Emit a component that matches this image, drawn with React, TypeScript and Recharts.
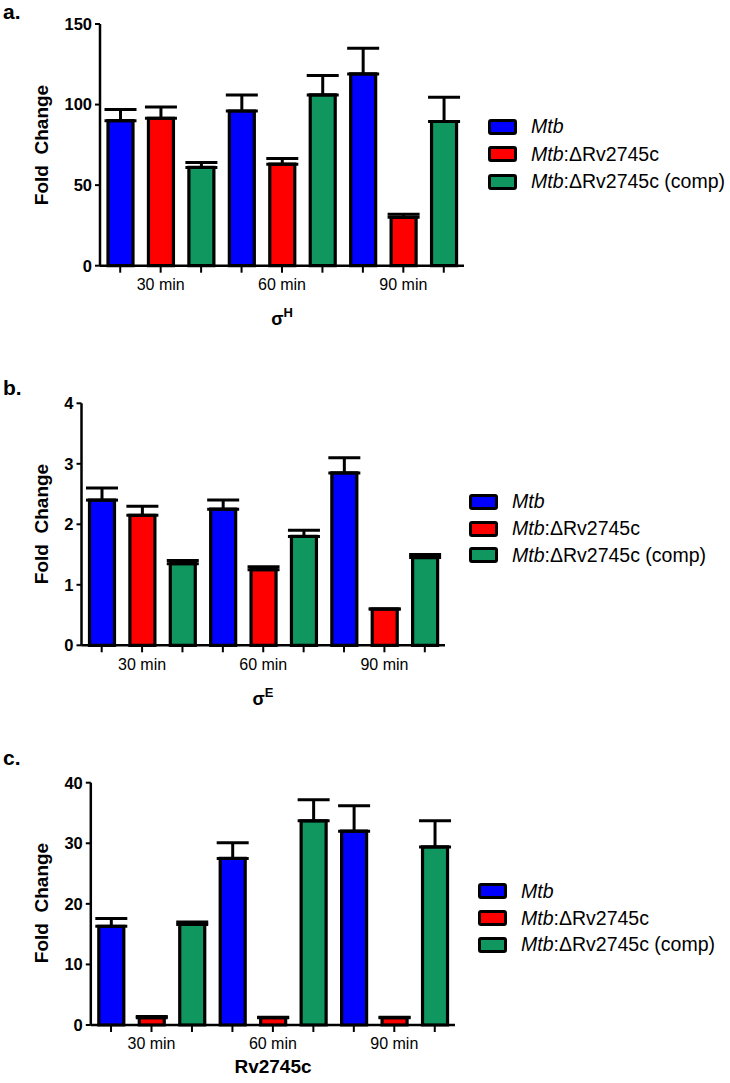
import React from "react";
import { BarChart, Bar, Cell, XAxis, YAxis, ErrorBar, Legend } from "recharts";

// categories: 3 time points x 3 strains, time-major order
const TIMES = ["30 min", "60 min", "90 min"];
const STRAINS = ["Mtb", "Mtb:ΔRv2745c", "Mtb:ΔRv2745c (comp)"];
const STRAIN_COLORS = ["#0000ff", "#ff0000", "#10965f"];

// sigma H
const sigmaHMean = [90, 91.5, 61, 96, 63, 106, 119, 30, 89.5];
const sigmaHErr = [7, 7, 3, 10, 3.5, 12, 16, 2, 15];
const sigmaHTicks = [0, 50, 100, 150];

// sigma E
const sigmaEMean = [2.4, 2.15, 1.35, 2.25, 1.25, 1.8, 2.85, 0.6, 1.45];
const sigmaEErr = [0.2, 0.15, 0.05, 0.15, 0.05, 0.1, 0.25, 0, 0.05];
const sigmaETicks = [0, 1, 2, 3, 4];

// Rv2745c
const rvMean = [16.3, 1.2, 16.6, 27.5, 1.2, 33.7, 32, 1.2, 29.4];
const rvErr = [1.3, 0.2, 0.4, 2.6, 0.1, 3.5, 4.2, 0.1, 4.3];
const rvTicks = [0, 10, 20, 30, 40];

const FONT = "'Liberation Sans', Arial, sans-serif";
const W = 730;
const H = 370;

function buildRows(mean: number[], err: number[]) {
  const rows: { key: string; label: string; strain: number; value: number; err: number[] }[] = [];
  TIMES.forEach((t, ti) => {
    STRAINS.forEach((s, si) => {
      const i = ti * STRAINS.length + si;
      rows.push({
        key: `${t}|${s}`,
        label: si === 1 ? t : "",
        strain: si,
        value: mean[i],
        err: [0, err[i]],
      });
    });
  });
  return rows;
}

function LegendBox({ rowH }: { rowH: number }) {
  return (
    <div style={{ fontFamily: FONT, fontSize: 19.5, color: "#000" }}>
      {STRAINS.map((s, i) => {
        const [head, ...rest] = s.split(":");
        return (
          <div key={s} style={{ display: "flex", alignItems: "center", height: rowH }}>
            <div
              style={{
                width: 29,
                height: 16,
                boxSizing: "border-box",
                border: "3px solid #000",
                borderRadius: 3,
                background: STRAIN_COLORS[i],
                marginRight: 14,
              }}
            />
            <span style={{ whiteSpace: "nowrap" }}>
              <i>{head}</i>
              {rest.length ? ":" + rest.join(":") : ""}
            </span>
          </div>
        );
      })}
    </div>
  );
}

interface PanelProps {
  top: number;
  mean: number[];
  err: number[];
  ticks: number[];
  plot: { left: number; right: number; top: number; bottom: number };
  legend: { left: number; top: number; rowH: number };
}

function Panel({ top, mean, err, ticks, plot, legend }: PanelProps) {
  const data = buildRows(mean, err);
  const xh = 30;
  return (
    <div style={{ position: "absolute", left: 0, top }}>
      <BarChart
        width={W}
        height={H}
        data={data}
        margin={{ top: plot.top, right: W - plot.right, left: 0, bottom: H - plot.bottom - xh }}
      >
        <XAxis
          dataKey="key"
          interval={0}
          height={xh}
          tickFormatter={(v: string) => (v.endsWith("|" + STRAINS[1]) ? v.split("|")[0] : "")}
          axisLine={{ stroke: "#000", strokeWidth: 2.5 }}
          tickLine={{ stroke: "#000", strokeWidth: 2 }}
          tickSize={7}
          tickMargin={6}
          tick={{ fill: "#000", fontSize: 16, fontFamily: FONT }}
        />
        <YAxis
          width={plot.left}
          domain={[ticks[0], ticks[ticks.length - 1]]}
          ticks={ticks}
          axisLine={{ stroke: "#000", strokeWidth: 2.5 }}
          tickLine={{ stroke: "#000", strokeWidth: 2 }}
          tickSize={5}
          tickMargin={3}
          tick={{ fill: "#000", fontSize: 16.5, fontWeight: "bold", fontFamily: FONT }}
        />
        <Legend
          layout="vertical"
          align="center"
          verticalAlign="middle"
          wrapperStyle={{ left: legend.left, top: legend.top, width: 240 }}
          content={() => <LegendBox rowH={legend.rowH} />}
        />
        <Bar dataKey="value" barSize={25} stroke="#000" strokeWidth={3.2} isAnimationActive={false}>
          {data.map((d) => (
            <Cell key={d.key} fill={STRAIN_COLORS[d.strain]} />
          ))}
          <ErrorBar dataKey="err" direction="y" width={16} stroke="#000" strokeWidth={3} />
        </Bar>
      </BarChart>
    </div>
  );
}

function FoldLabel({ cy }: { cy: number }) {
  return (
    <text
      x={48}
      y={cy}
      transform={`rotate(-90 48 ${cy})`}
      textAnchor="middle"
      fontFamily={FONT}
      fontSize={19}
      fontWeight="bold"
      xmlSpace="preserve"
      style={{ whiteSpace: "pre" }}
    >
      {"Fold  Change"}
    </text>
  );
}

export default function App() {
  return (
    <div style={{ position: "absolute", left: 0, top: 0, width: 730, height: 1083, background: "#fff" }}>
      <Panel
        top={0}
        mean={sigmaHMean}
        err={sigmaHErr}
        ticks={sigmaHTicks}
        plot={{ left: 100, right: 464, top: 24, bottom: 265.7 }}
        legend={{ left: 488, top: 113, rowH: 27.5 }}
      />
      <Panel
        top={370}
        mean={sigmaEMean}
        err={sigmaEErr}
        ticks={sigmaETicks}
        plot={{ left: 81.5, right: 445, top: 33.3, bottom: 275.3 }}
        legend={{ left: 469, top: 118.6, rowH: 26.75 }}
      />
      <Panel
        top={740}
        mean={rvMean}
        err={rvErr}
        ticks={rvTicks}
        plot={{ left: 90.8, right: 455, top: 42.7, bottom: 285 }}
        legend={{ left: 478, top: 138, rowH: 26.75 }}
      />
      <svg
        width={730}
        height={1083}
        style={{ position: "absolute", left: 0, top: 0, pointerEvents: "none" }}
      >
        <g fontFamily={FONT} fontWeight="bold" fill="#000">
          <text x={3} y={19} fontSize={21}>a.</text>
          <text x={3} y={395} fontSize={21}>b.</text>
          <text x={3} y={765} fontSize={21}>c.</text>
          <FoldLabel cy={145} />
          <FoldLabel cy={524} />
          <FoldLabel cy={903} />
          <text x={282} y={325} fontSize={18} textAnchor="middle">
            σ<tspan fontSize={13} dy={-8}>H</tspan>
          </text>
          <text x={263} y={705} fontSize={18} textAnchor="middle">
            σ<tspan fontSize={13} dy={-8}>E</tspan>
          </text>
          <text x={273} y={1073} fontSize={19} textAnchor="middle">Rv2745c</text>
        </g>
      </svg>
    </div>
  );
}
